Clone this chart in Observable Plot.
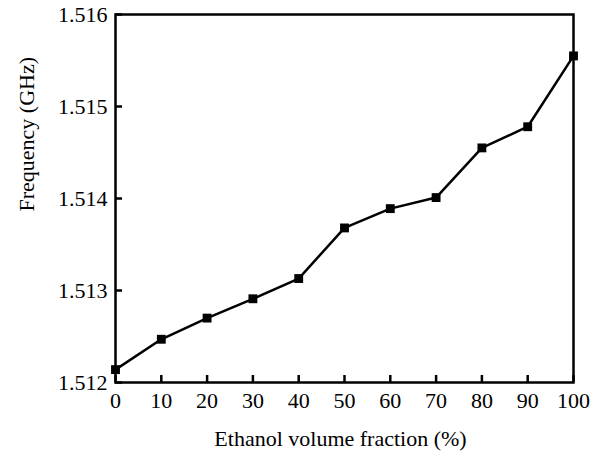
<!DOCTYPE html>
<html>
<head>
<meta charset="utf-8">
<script src="https://cdn.jsdelivr.net/npm/d3@7"></script>
<script src="https://cdn.jsdelivr.net/npm/@observablehq/plot@0.6"></script>
<style>
  html, body { margin: 0; padding: 0; background: #fff; }
  #chart svg { display: block; }
</style>
</head>
<body>
<div id="chart"></div>
<script>
// Resonant frequency versus ethanol volume fraction
const fraction = [0, 10, 20, 30, 40, 50, 60, 70, 80, 90, 100];
const frequency = [1.51214, 1.51247, 1.51270, 1.51291, 1.51313, 1.51368, 1.51389, 1.51401, 1.51455, 1.51478, 1.51555];
const xTicks = [0, 10, 20, 30, 40, 50, 60, 70, 80, 90, 100];
const yTicks = [1.512, 1.513, 1.514, 1.515, 1.516];
const xTitle = "Ethanol volume fraction (%)";
const yTitle = "Frequency (GHz)";

const data = fraction.map((f, i) => ({fraction: f, frequency: frequency[i]}));
const blank = () => "";

const chart = Plot.plot({
  width: 614,
  height: 451,
  marginLeft: 115,
  marginRight: 41,
  marginTop: 14,
  marginBottom: 69,
  style: {fontFamily: "'Liberation Serif', 'Times New Roman', serif", fontSize: "22px", color: "#000", background: "#fff"},
  x: {domain: [0, 100]},
  y: {domain: [1.512, 1.516]},
  marks: [
    // inward tick marks (shifted back inside the frame)
    Plot.axisX({ticks: xTicks, tickSize: 7, dy: -7, strokeWidth: 2.5, tickFormat: blank, label: null}),
    Plot.axisY({ticks: yTicks, tickSize: 7, dx: 7, strokeWidth: 2.5, tickFormat: blank, label: null}),
    // tick labels
    Plot.axisX({ticks: xTicks, tickSize: 0, tickPadding: 10, fontSize: 22, label: null}),
    Plot.axisY({ticks: yTicks, tickSize: 0, tickPadding: 8, fontSize: 22, tickFormat: d3.format(".3f"), label: null}),
    // axis titles
    Plot.text([xTitle], {text: d => d, frameAnchor: "bottom", dx: -4, dy: 56, fontSize: 22, lineAnchor: "middle"}),
    Plot.text([yTitle], {text: d => d, frameAnchor: "left", dx: -89, dy: 13, rotate: -90, fontSize: 22, lineAnchor: "middle"}),
    Plot.line(data, {x: "fraction", y: "frequency", stroke: "#000", strokeWidth: 2.5}),
    Plot.dot(data, {x: "fraction", y: "frequency", symbol: "square", r: 5, fill: "#000", stroke: "none"}),
    Plot.frame({stroke: "#000", strokeWidth: 2.5})
  ]
});

document.getElementById("chart").append(chart);
</script>
</body>
</html>
